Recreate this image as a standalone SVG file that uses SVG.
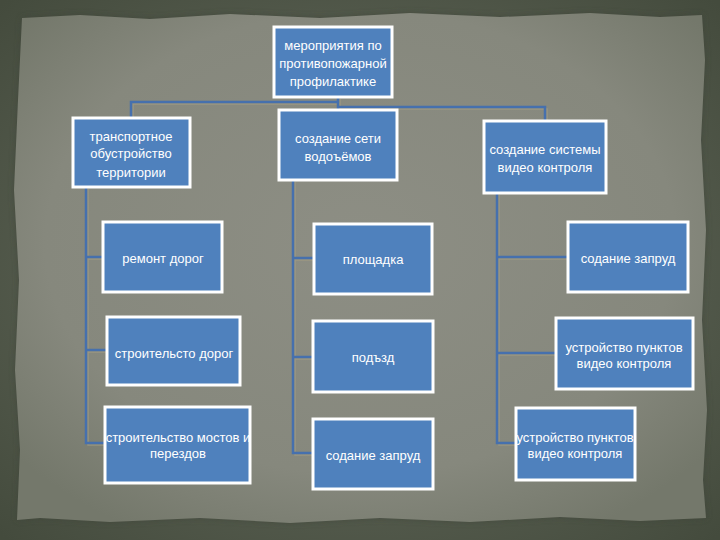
<svg xmlns="http://www.w3.org/2000/svg" width="720" height="540" viewBox="0 0 720 540">
<defs>
<radialGradient id="bg" cx="50%" cy="50%" r="70%">
<stop offset="0" stop-color="#6b7163"/>
<stop offset="1" stop-color="#444b3d"/>
</radialGradient>
<radialGradient id="paper" cx="50%" cy="45%" r="65%">
<stop offset="0" stop-color="#8d8e84"/>
<stop offset="0.7" stop-color="#86887d"/>
<stop offset="1" stop-color="#74786b"/>
</radialGradient>
<filter id="soft" x="-5%" y="-5%" width="110%" height="110%"><feGaussianBlur stdDeviation="3"/></filter>
</defs>
<style>
.box{fill:#4f81bd;stroke:#ffffff;stroke-width:3}
.t{font-family:"Liberation Sans",Arial,sans-serif;font-size:13px;fill:#ffffff;text-anchor:middle}
.ln{fill:none;stroke:#4670ad;stroke-width:2.5}
.sh{fill:none;stroke:#a49c82;stroke-width:1.5;opacity:0.7}
</style>
<rect x="0" y="0" width="720" height="540" fill="url(#bg)"/>
<path d="M22,18 L80,15 L150,19 L230,14 L320,18 L410,13 L500,17 L590,13 L660,17 L702,15 L705,60 L701,140 L706,230 L702,320 L707,410 L703,480 L706,518 L640,521 L560,517 L470,522 L380,518 L290,523 L200,518 L110,522 L40,518 L17,520 L20,450 L15,370 L19,280 L14,190 L18,100 Z" fill="#3d4337" opacity="0.6" filter="url(#soft)"/>
<path d="M22,18 L80,15 L150,19 L230,14 L320,18 L410,13 L500,17 L590,13 L660,17 L702,15 L705,60 L701,140 L706,230 L702,320 L707,410 L703,480 L706,518 L640,521 L560,517 L470,522 L380,518 L290,523 L200,518 L110,522 L40,518 L17,520 L20,450 L15,370 L19,280 L14,190 L18,100 Z" fill="url(#paper)"/>
<g id="connectors">
<path class="sh" d="M340,99 V104 H133 V118 M340,99 V109 H547 V120 M340,99 V110 M88,189 V445 H105 M88,259 H103 M88,352 H107 M295,182 V455 H313 M295,260 H314 M295,359 H313 M499,195 V445 H516 M499,259 H568 M499,355 H556"/>
<path class="ln" d="M338,97 V102 H131 V118 M338,97 V107 H545 V120 M338,97 V110"/>
<path class="ln" d="M86,187 V443 H105 M86,257 H103 M86,350 H107"/>
<path class="ln" d="M293,180 V453 H313 M293,258 H314 M293,357 H313"/>
<path class="ln" d="M497,193 V443 H516 M497,257 H568 M497,353 H556"/>
</g>
<g id="root"><rect class="box" x="274" y="27" width="118" height="70"/><text class="t" x="333" y="50">мероприятия по</text><text class="t" x="333" y="68">противопожарной</text><text class="t" x="333" y="86">профилактике</text></g>
<g id="transport"><rect class="box" x="73" y="118" width="117" height="69"/><text class="t" x="131" y="141">транспортное</text><text class="t" x="131" y="158">обустройство</text><text class="t" x="131" y="177">территории</text></g>
<g id="water"><rect class="box" x="279" y="110" width="118" height="70"/><text class="t" x="338" y="143">создание сети</text><text class="t" x="338" y="161">водоъёмов</text></g>
<g id="video"><rect class="box" x="484" y="121" width="122" height="72"/><text class="t" x="545" y="154">создание системы</text><text class="t" x="545" y="172">видео контроля</text></g>
<g id="repair"><rect class="box" x="103" y="222" width="119" height="70"/><text class="t" x="163" y="263">ремонт дорог</text></g>
<g id="build-roads"><rect class="box" x="107" y="317" width="133" height="68"/><text class="t" x="174" y="358">строительсто дорог</text></g>
<g id="bridges"><rect class="box" x="105" y="407" width="145" height="76"/><text class="t" x="178" y="442">строительство мостов и</text><text class="t" x="178" y="458">перездов</text></g>
<g id="site"><rect class="box" x="314" y="224" width="118" height="70"/><text class="t" x="373" y="264">площадка</text></g>
<g id="access"><rect class="box" x="313" y="321" width="120" height="71"/><text class="t" x="373" y="362">подъзд</text></g>
<g id="dam-mid"><rect class="box" x="313" y="419" width="120" height="70"/><text class="t" x="373" y="460">содание запруд</text></g>
<g id="dam-right"><rect class="box" x="568" y="222" width="120" height="70"/><text class="t" x="628" y="263">содание запруд</text></g>
<g id="points1"><rect class="box" x="556" y="318" width="137" height="71"/><text class="t" x="624" y="352">устройство пунктов</text><text class="t" x="624" y="368">видео контроля</text></g>
<g id="points2"><rect class="box" x="516" y="408" width="119" height="72"/><text class="t" x="575" y="442">устройство пунктов</text><text class="t" x="575" y="458">видео контроля</text></g>
</svg>
